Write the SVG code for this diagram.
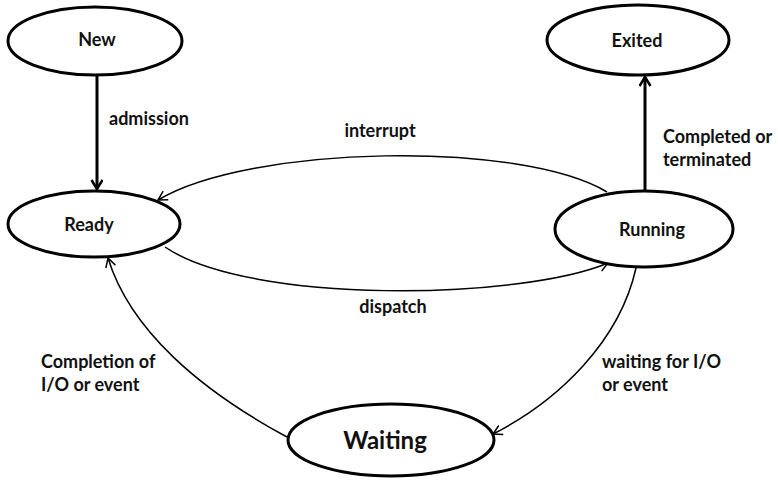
<svg xmlns="http://www.w3.org/2000/svg" width="778" height="485" viewBox="0 0 778 485">
<style>
.node ellipse{fill:#fff;stroke:#000;stroke-width:3}
.lbl{font-family:Lato,"Liberation Sans",sans-serif;font-weight:bold;font-size:18px;fill:#111}
.nl{text-anchor:middle}
.thick{fill:none;stroke:#000;stroke-width:3}
.thin{fill:none;stroke:#000;stroke-width:1.5}
</style>
<defs>
<marker id="ah" markerUnits="userSpaceOnUse" markerWidth="16" markerHeight="16" refX="10" refY="6" orient="auto">
<path d="M1,0.5 L10,6 L1,11.5" fill="none" stroke="#000" stroke-width="2.5"/>
</marker>
<marker id="at" markerUnits="userSpaceOnUse" markerWidth="16" markerHeight="16" refX="10" refY="6" orient="auto">
<path d="M1,1 L10,6 L1,11" fill="none" stroke="#000" stroke-width="1.5"/>
</marker>
</defs>
<rect width="778" height="485" fill="#fff"/>
<g id="connectors">
<line class="thick" x1="97" y1="76" x2="97" y2="189" marker-end="url(#ah)"/>
<line class="thick" x1="645" y1="190" x2="645" y2="77" marker-end="url(#ah)"/>
<path class="thin" d="M607,192 C520,140 250,145 158,200" marker-end="url(#at)"/>
<path class="thin" d="M165,247 C250,305 520,300 608,263" marker-end="url(#at)"/>
<path class="thin" d="M287,437 C200,390 130,330 108,258" marker-end="url(#at)"/>
<path class="thin" d="M636,268 C620,340 560,400 493,434" marker-end="url(#at)"/>
<text class="lbl" x="109" y="125">admission</text>
<text class="lbl" x="663" y="143">Completed or</text>
<text class="lbl" x="663" y="166">terminated</text>
<text class="lbl nl" x="380" y="137">interrupt</text>
<text class="lbl nl" x="393" y="313">dispatch</text>
<text class="lbl" x="41" y="368">Completion of</text>
<text class="lbl" x="41" y="391">I/O or event</text>
<text class="lbl" x="602" y="368">waiting for I/O</text>
<text class="lbl" x="602" y="391">or event</text>
</g>
<g id="new" class="node"><ellipse cx="95" cy="41" rx="87" ry="34"/><text class="lbl nl" x="97" y="46">New</text></g>
<g id="ready" class="node"><ellipse cx="94" cy="224" rx="86" ry="33"/><text class="lbl nl" x="89" y="231">Ready</text></g>
<g id="exited" class="node"><ellipse cx="638" cy="40" rx="91" ry="35"/><text class="lbl nl" x="637" y="47">Exited</text></g>
<g id="running" class="node"><ellipse cx="644" cy="229" rx="89" ry="38"/><text class="lbl nl" x="652" y="236">Running</text></g>
<g id="waiting" class="node"><ellipse cx="391" cy="440" rx="103" ry="36"/><text class="lbl nl" x="385" y="449" style="font-size:24px">Waiting</text></g>
</svg>
